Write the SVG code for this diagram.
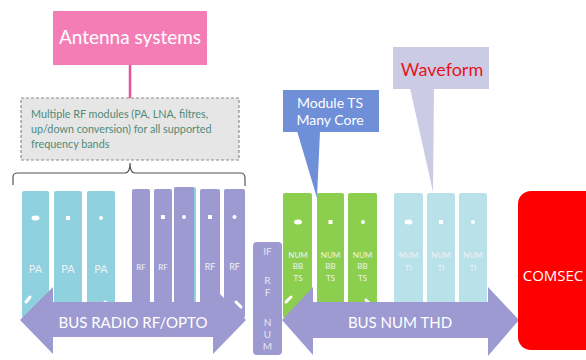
<svg xmlns="http://www.w3.org/2000/svg" width="586" height="360" viewBox="0 0 586 360">
<defs>
<style>
.lav{fill:#9d9ad1}
.pa{fill:#8fd1de}
.gr{fill:#8ccf4f}
.ti{fill:#b8e1ea}
.dot{fill:#ffffff}
.mt{font-family:"Lato","Liberation Sans",sans-serif;fill:#eef2f6;text-anchor:middle}
.bus{font-family:"Lato","Liberation Sans",sans-serif;fill:#ffffff;font-size:15px;text-anchor:middle}
.mark{stroke:#ffffff;stroke-width:3;stroke-linecap:round;fill:none}
</style>
</defs>
<rect width="586" height="360" fill="#ffffff"/>

<g id="connectors">
<line x1="130" y1="65" x2="130" y2="98" stroke="#e8529a" stroke-width="2.5"/>
<path d="M13,185 L13,177 Q13,173 18,173 L125,173 Q130,173 130,163 Q130,173 135,173 L240,173 Q245,173 245,178 L245,186" fill="none" stroke="#555555" stroke-width="1.2"/>
</g>

<g id="antenna">
<rect x="53" y="11" width="154" height="54" fill="#f57db5"/>
<text x="130" y="44" font-family="Lato,'Liberation Sans',sans-serif" font-size="19" fill="#ffffff" text-anchor="middle">Antenna systems</text>
</g>

<g id="rf-desc">
<rect x="21" y="98" width="218" height="62" fill="#e6e6e6" stroke="#8a8a8a" stroke-width="1.2" stroke-dasharray="3,2"/>
<g font-family="Lato,'Liberation Sans',sans-serif" font-size="10.8" fill="#4f8a78">
<text x="31" y="118">Multiple RF modules (PA, LNA, filtres,</text>
<text x="31" y="133">up/down conversion) for all supported</text>
<text x="31" y="148">frequency bands</text>
</g>
</g>

<g id="pa-modules">
<rect class="pa" x="22" y="191" width="27" height="127" rx="2"/>
<rect class="pa" x="54" y="191" width="28" height="127" rx="2"/>
<rect class="pa" x="87" y="191" width="28" height="127" rx="2"/>
<ellipse class="dot" cx="35.5" cy="218" rx="4" ry="2.5"/>
<rect class="dot" x="66" y="216" width="4" height="4"/>
<circle class="dot" cx="101" cy="218" r="2"/>
<text class="mt" x="35.5" y="273" font-size="11">PA</text>
<text class="mt" x="68" y="273" font-size="11">PA</text>
<text class="mt" x="101" y="273" font-size="11">PA</text>
<path class="mark" d="M26,302 L30,297"/>
<path class="mark" d="M105,302 L109,305"/>
</g>

<g id="rf-modules">
<rect class="lav" x="132" y="189" width="18" height="129" rx="2"/>
<rect class="lav" x="154" y="189" width="18" height="129" rx="2"/>
<rect x="174" y="187" width="22" height="131" rx="2" fill="#8fd1de"/>
<rect class="lav" x="174" y="187" width="20" height="131" rx="2"/>
<rect class="lav" x="200" y="189" width="20" height="129" rx="2"/>
<rect class="lav" x="224" y="189" width="21" height="129" rx="2"/>
<rect class="dot" x="161" y="215" width="4" height="4"/>
<circle class="dot" cx="184" cy="217" r="2"/>
<rect class="dot" x="208" y="215" width="4" height="4"/>
<circle class="dot" cx="234.5" cy="217" r="2"/>
<text class="mt" x="141" y="270" font-size="8">RF</text>
<text class="mt" x="163" y="270" font-size="8">RF</text>
<text class="mt" x="210" y="270" font-size="9">RF</text>
<text class="mt" x="234.5" y="270" font-size="9">RF</text>
<path class="mark" d="M236,302 L241,307"/>
</g>

<g id="bus-radio">
<polygon class="lav" points="20,320 53,287 53,302 213,302 213,287 246,320 213,354 213,337 53,337 53,354"/>
<text class="bus" x="133" y="328">BUS RADIO RF/OPTO</text>
</g>

<g id="if-rf-num">
<rect class="lav" x="253" y="242" width="29" height="113" rx="4"/>
<g font-family="Lato,'Liberation Sans',sans-serif" font-size="10" fill="#e4e6f4" text-anchor="middle">
<text x="267.5" y="255">IF</text>
<text x="267.5" y="284">R</text>
<text x="267.5" y="296">F</text>
<text x="267.5" y="326">N</text>
<text x="267.5" y="338">U</text>
<text x="267.5" y="350">M</text>
</g>
</g>

<g id="bb-ts-modules">
<rect class="gr" x="283" y="193" width="29" height="125" rx="2"/>
<rect class="gr" x="317" y="193" width="27" height="125" rx="2"/>
<rect class="gr" x="348" y="193" width="29" height="125" rx="2"/>
<ellipse class="dot" cx="298" cy="222" rx="4" ry="2.5"/>
<rect class="dot" x="328.5" y="220" width="4" height="4"/>
<circle class="dot" cx="363" cy="222" r="2"/>
<g class="mt" font-size="8" fill="#e8f5dc">
<text x="298" y="258">NUM</text><text x="298" y="269">BB</text><text x="298" y="281">TS</text>
<text x="330.5" y="258">NUM</text><text x="330.5" y="269">BB</text><text x="330.5" y="281">TS</text>
<text x="362.5" y="258">NUM</text><text x="362.5" y="269">BB</text><text x="362.5" y="281">TS</text>
</g>
<path class="mark" d="M286,302 L291,297"/>
<path class="mark" d="M366,300 L369,303"/>
</g>

<g id="ti-modules">
<rect class="ti" x="394" y="193" width="29" height="125" rx="2"/>
<rect class="ti" x="427" y="193" width="28" height="125" rx="2"/>
<rect class="ti" x="459" y="193" width="28" height="125" rx="2"/>
<ellipse class="dot" cx="408.5" cy="222" rx="4" ry="2.5"/>
<rect class="dot" x="439" y="220" width="4" height="4"/>
<circle class="dot" cx="473" cy="222" r="2"/>
<g class="mt" font-size="8" fill="#e4f4f8">
<text x="408.5" y="258">NUM</text><text x="408.5" y="271">TI</text>
<text x="441" y="258">NUM</text><text x="441" y="271">TI</text>
<text x="473" y="258">NUM</text><text x="473" y="271">TI</text>
</g>
</g>

<g id="bus-num">
<polygon class="lav" points="282,320 313,287 313,302 488,302 488,287 519,320 488,356 488,338 313,338 313,355"/>
<text class="bus" x="400" y="328">BUS NUM THD</text>
</g>

<g id="comsec">
<rect x="518" y="191" width="80" height="159" rx="13" fill="#ff0000"/>
<text x="553" y="281" font-family="'Open Sans','Liberation Sans',sans-serif" font-size="15" fill="#ffffff" text-anchor="middle">COMSEC</text>
</g>

<g id="module-ts">
<polygon points="297,131 320,131 317,198" fill="#6f8fd9"/>
<rect x="283" y="90" width="96" height="42" fill="#6f8fd9"/>
<g font-family="Lato,'Liberation Sans',sans-serif" font-size="14" fill="#ffffff" text-anchor="middle">
<text x="330" y="108">Module TS</text>
<text x="330" y="125">Many Core</text>
</g>
</g>

<g id="waveform">
<polygon points="410,88 434,88 433,192" fill="#cbcbe6"/>
<rect x="393" y="47" width="96" height="42" fill="#cbcbe6"/>
<text x="442" y="76" font-family="Lato,'Liberation Sans',sans-serif" font-size="18" fill="#e8141c" text-anchor="middle">Waveform</text>
</g>
</svg>
